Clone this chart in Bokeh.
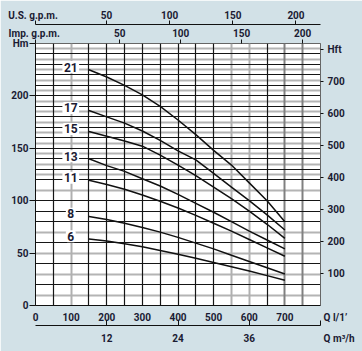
from bokeh.plotting import figure
from bokeh.models import Range1d, LinearAxis, FixedTicker, Grid, LabelSet, ColumnDataSource
from bokeh.core.properties import value
from bokeh.embed import file_html
from bokeh.resources import INLINE

# ---- data ----
flow_lmin = [150, 200, 250, 300, 350, 400, 450, 500, 550, 600, 650, 700]
stages = ["6", "8", "11", "13", "15", "17", "21"]
head_6 = [63.5, 61.5, 59, 56, 52.5, 49, 45, 41, 37, 33, 28.5, 24]
head_8 = [85, 82, 78.5, 74.5, 70, 65, 59.5, 54, 48, 42, 36, 30]
head_11 = [119.5, 115.5, 111, 105.5, 99.5, 93, 86, 78.5, 71, 63, 55, 47]
head_13 = [140, 133.5, 128, 121, 114, 106, 97.5, 89, 80, 71, 62.5, 54]
head_15 = [166, 161.5, 157, 152, 143.5, 134, 124, 113, 102, 90, 77.5, 64]
head_17 = [186, 180, 174, 166.5, 157.5, 147.5, 139, 126, 113, 100, 86.5, 72]
head_21 = [225, 218, 210, 201, 190, 177, 163, 148, 134, 117, 100, 80]
heads = [head_6, head_8, head_11, head_13, head_15, head_17, head_21]

hm_ticks = [0, 50, 100, 150, 200, 250]
hft_ticks = [100, 200, 300, 400, 500, 600, 700, 800]
q_ticks = [0, 100, 200, 300, 400, 500, 600, 700]
m3h_ticks = [12, 24, 36]
gpm_ticks = [50, 100, 150, 200]

INK = "#1b1b33"
BG = "#d2e1e7"
FONT = "Roboto"
NB = "\u00a0"

Q_MAX, M3H_MAX = 800, 48
US_LO, US_HI = -6.2, 219.4
IMP_LO, IMP_HI = -19.2, 214.7
HM_MAX = 250
FT_MAX = HM_MAX * 3.2808

p = figure(width=362, height=351, x_range=Range1d(0, Q_MAX), y_range=Range1d(0, HM_MAX),
           output_backend="svg", toolbar_location=None,
           min_border_left=35, min_border_right=42, min_border_top=43, min_border_bottom=46)
p.background_fill_color = "white"
p.border_fill_color = BG
p.outline_line_color = "#666666"
p.outline_line_width = 1
p.xgrid.visible = False
p.ygrid.visible = False

p.extra_y_ranges = {"ft": Range1d(0, FT_MAX)}
p.extra_x_ranges = {"m3h": Range1d(0, M3H_MAX), "imp": Range1d(IMP_LO, IMP_HI),
                    "us": Range1d(US_LO, US_HI)}


def style_axis(ax, ticks):
    ax.ticker = FixedTicker(ticks=ticks)
    ax.minor_tick_line_color = None
    ax.major_label_text_font = FONT
    ax.major_label_text_font_style = "bold"
    ax.major_label_text_font_size = "10px"
    ax.major_label_text_color = INK
    ax.axis_line_color = "#111111"
    ax.major_tick_line_color = "#111111"
    ax.major_tick_in = 0


# left axis Hm
la = p.yaxis[0]
style_axis(la, hm_ticks)
la.major_label_overrides = {HM_MAX: "Hm"}
la.major_tick_out = 6
la.major_label_standoff = 1

# right axis Hft
ra = LinearAxis(y_range_name="ft")
style_axis(ra, hft_ticks)
ra.major_label_overrides = {800: "Hft"}
ra.major_tick_out = 3
ra.major_label_standoff = 4
ra.axis_line_color = "#666666"
p.add_layout(ra, "right")

# bottom axis l/min (axis name shown at the right end)
ba = p.xaxis[0]
style_axis(ba, q_ticks + [Q_MAX])
ba.major_label_overrides = {Q_MAX: NB * 12 + "Q l/1\u2019"}
ba.major_tick_out = 4
ba.major_tick_line_color = None
ba.major_label_standoff = 2

# second bottom axis m3/h
ma = LinearAxis(x_range_name="m3h")
style_axis(ma, m3h_ticks + [M3H_MAX])
ma.major_label_overrides = {M3H_MAX: NB * 15 + "Q m\u00b3/h"}
ma.major_tick_out = 0
ma.major_tick_in = 5
ma.major_label_standoff = 7
p.add_layout(ma, "below")

# top axes (axis names shown at the left end)
ia = LinearAxis(x_range_name="imp")
style_axis(ia, [IMP_LO] + gpm_ticks)
ia.major_label_overrides = {IMP_LO: "Imp. g.p.m." + NB}
ia.major_tick_out = 4
ia.major_label_standoff = 1
ia.axis_line_color = None
p.add_layout(ia, "above")

ua = LinearAxis(x_range_name="us")
style_axis(ua, [US_LO] + gpm_ticks)
ua.major_label_overrides = {US_LO: "U.S. g.p.m." + NB * 2}
ua.major_tick_out = 4
ua.major_label_standoff = 0
p.add_layout(ua, "above")

# grids
def add_grid(dim, ticks, color, width):
    g = Grid(dimension=dim, ticker=FixedTicker(ticks=ticks),
             grid_line_color=color, grid_line_width=width)
    p.add_layout(g)

grey_h = [10, 30, 50, 70, 110] + list(range(125, 250, 10))
black_h = [20, 40, 60, 80, 90, 100] + list(range(120, 250, 10))
add_grid(1, grey_h, "#b4b4b4", 2)
add_grid(0, [100, 550, 600], "#b0b0b0", 2)
add_grid(0, [700, 750], "#808080", 2)
add_grid(1, black_h, "#161616", 1.2)
add_grid(0, [50, 150, 200, 250, 300, 350, 400, 450, 500, 650], "#161616", 1.2)

# curves
for h in heads:
    p.line(flow_lmin, h, line_color="#111111", line_width=1.5)

# curve labels
lab_src = ColumnDataSource(dict(x=[99] * len(stages), y=[h[0] + 2.5 for h in heads], t=stages))
p.add_layout(LabelSet(x="x", y="y", text="t", source=lab_src,
                      text_align="center", text_baseline="middle",
                      text_font=value(FONT), text_font_style="bold", text_font_size="12px",
                      text_color=INK, background_fill_color="white",
                      border_line_color="white", border_line_width=3))

open("out.html", "w").write(file_html(p, INLINE))
